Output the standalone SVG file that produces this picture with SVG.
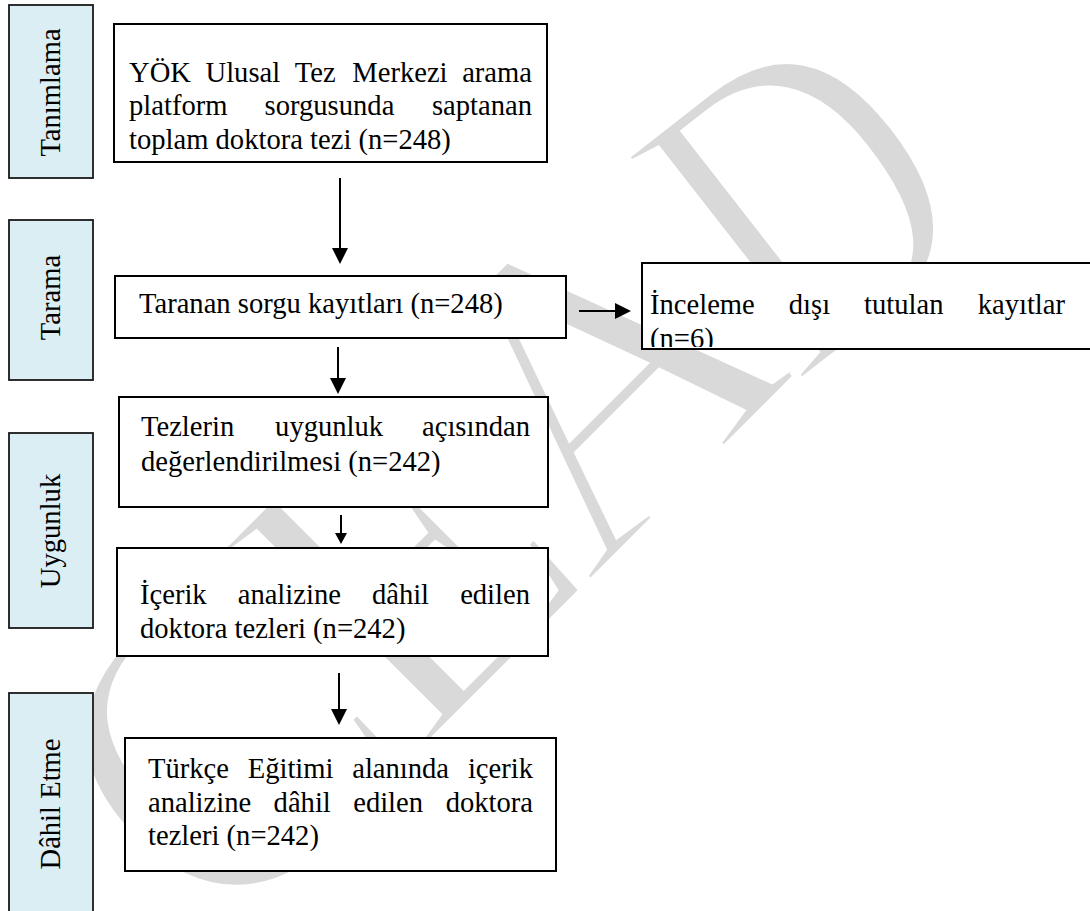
<svg xmlns="http://www.w3.org/2000/svg" width="1090" height="911" viewBox="0 0 1090 911">
<defs>
<style>
.t{font-family:"Liberation Serif","Times New Roman",serif;font-size:28.6px;fill:#000}
.side{fill:#daeef3;stroke:#1a1a1a;stroke-width:1.8}
.box{fill:#fff;stroke:#000;stroke-width:2}
.ln{stroke:#000;stroke-width:2;fill:none}
.wm{font-family:"Liberation Serif","Times New Roman",serif;font-size:440px;fill:#d9d9d9;stroke:#fff;stroke-width:10;letter-spacing:-22px}
</style>
<marker id="ah" markerUnits="userSpaceOnUse" markerWidth="16" markerHeight="16" viewBox="0 0 16 16" refX="0" refY="8" orient="auto"><path d="M0,0 L16,8 L0,16 z" fill="#000"/></marker>
<marker id="ahs" markerUnits="userSpaceOnUse" markerWidth="11" markerHeight="12" viewBox="0 0 11 12" refX="0" refY="6" orient="auto"><path d="M0,0 L11,6 L0,12 z" fill="#000"/></marker>
<clipPath id="c3"><rect x="643" y="264" width="447" height="83"/></clipPath>
</defs>
<rect width="1090" height="911" fill="#fff"/>
<g id="watermark">
<text class="wm" transform="translate(221,954) rotate(-45)">CEA</text>
<text class="wm" transform="translate(794,389) rotate(-38) scale(0.8,1)">D</text>
</g>

<g id="phase-tanimlama"><rect class="side" x="9" y="5" width="84" height="173"/><text class="t" text-anchor="middle" transform="translate(60,92.5) rotate(-90)">Tanımlama</text></g>
<g id="phase-tarama"><rect class="side" x="9" y="220" width="84" height="160"/><text class="t" text-anchor="middle" transform="translate(60,297.5) rotate(-90)">Tarama</text></g>
<g id="phase-uygunluk"><rect class="side" x="9" y="433" width="84" height="195"/><text class="t" text-anchor="middle" transform="translate(60,531) rotate(-90)">Uygunluk</text></g>
<g id="phase-dahil"><rect class="side" x="9" y="693" width="84" height="240"/><text class="t" text-anchor="middle" transform="translate(60,804) rotate(-90)">Dâhil Etme</text></g>

<g id="n1"><rect class="box" x="114" y="24" width="433" height="138"/>
<text class="t" y="82"><tspan x="129">YÖK</tspan><tspan x="205.5">Ulusal</tspan><tspan x="294.8">Tez</tspan><tspan x="352.3">Merkezi</tspan></text><text class="t" y="82" x="532" text-anchor="end">arama</text>
<text class="t" y="115"><tspan x="129">platform</tspan><tspan x="264.6">sorgusunda</tspan></text><text class="t" y="115" x="532" text-anchor="end">saptanan</text>
<text class="t" x="129" y="149">toplam doktora tezi (n=248)</text></g>

<g id="n2"><rect class="box" x="115" y="276" width="451" height="62"/><text class="t" x="139" y="313">Taranan sorgu kayıtları (n=248)</text></g>

<g id="n3"><rect class="box" x="642" y="263" width="460" height="86"/>
<g clip-path="url(#c3)"><text class="t" y="314"><tspan x="650">İnceleme</tspan><tspan x="788.8">dışı</tspan><tspan x="864.1">tutulan</tspan></text><text class="t" y="314" x="1065" text-anchor="end">kayıtlar</text>
<text class="t" x="650" y="348">(n=6)</text></g></g>

<g id="n4"><rect class="box" x="119" y="397" width="429" height="110"/>
<text class="t" y="436"><tspan x="141">Tezlerin</tspan><tspan x="275.1">uygunluk</tspan></text><text class="t" y="436" x="530" text-anchor="end">açısından</text>
<text class="t" x="141" y="471">değerlendirilmesi (n=242)</text></g>

<g id="n5"><rect class="box" x="117" y="548" width="431" height="108"/>
<text class="t" y="604"><tspan x="140">İçerik</tspan><tspan x="237.7">analizine</tspan><tspan x="371.9">dâhil</tspan></text><text class="t" y="604" x="530" text-anchor="end">edilen</text>
<text class="t" x="140" y="638">doktora tezleri (n=242)</text></g>

<g id="n6"><rect class="box" x="125" y="738" width="431" height="133"/>
<text class="t" y="778"><tspan x="148">Türkçe</tspan><tspan x="247.7">Eğitimi</tspan><tspan x="352.2">alanında</tspan></text><text class="t" y="778" x="533" text-anchor="end">içerik</text>
<text class="t" y="812"><tspan x="148">analizine</tspan><tspan x="273.6">dâhil</tspan><tspan x="353.2">edilen</tspan></text><text class="t" y="812" x="533" text-anchor="end">doktora</text>
<text class="t" x="148" y="845">tezleri (n=242)</text></g>

<g id="connectors">
<line class="ln" x1="340" y1="178" x2="340" y2="248" marker-end="url(#ah)"/>
<line class="ln" x1="338" y1="347" x2="338" y2="378" marker-end="url(#ah)"/>
<line class="ln" x1="579" y1="311" x2="615" y2="311" marker-end="url(#ah)"/>
<line class="ln" x1="341" y1="515" x2="341" y2="533" marker-end="url(#ahs)"/>
<line class="ln" x1="339" y1="673" x2="339" y2="709" marker-end="url(#ah)"/>
</g>
</svg>
